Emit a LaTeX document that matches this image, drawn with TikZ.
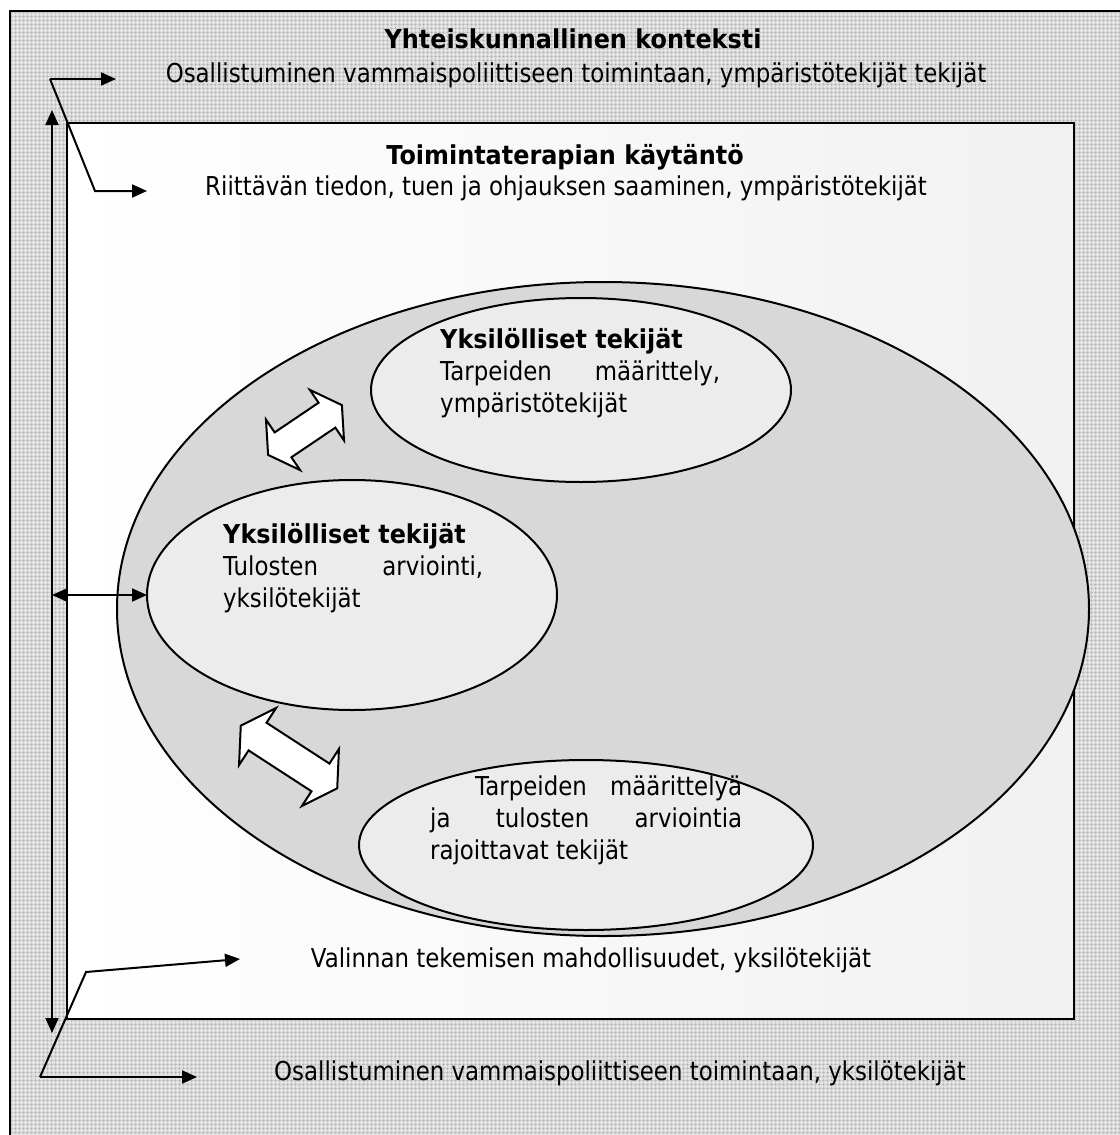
\documentclass[tikz,border=0pt]{standalone}
\usepackage{fontspec}
\setmainfont{DejaVu Sans}[FakeStretch=0.88,BoldFeatures={FakeStretch=0.92}]
\usetikzlibrary{arrows.meta,patterns.meta}
\definecolor{outerbg}{RGB}{226,226,226}
\definecolor{outergrid}{RGB}{178,178,178}
\definecolor{practice}{RGB}{241,241,241}
\definecolor{bigfill}{RGB}{216,216,216}
\definecolor{smallfill}{RGB}{236,236,236}
\tikzset{
  tip/.tip={Triangle[length=15pt,width=13pt]},
  frame/.style={draw=black,line width=2.4pt},
  link/.style={draw=black,line width=2pt,-tip},
  twoway/.style={draw=black,line width=2pt,tip-tip},
  factor/.style={draw=black,line width=2pt,fill=smallfill},
  block/.style={draw=black,line width=2pt,fill=white,line join=miter},
  txt/.style={font=\fontsize{26}{32}\selectfont,inner sep=0pt,anchor=base},
  head/.style={txt,font=\fontsize{26}{32}\selectfont\bfseries},
  para/.style={txt,anchor=base west},
}
\newcommand{\spread}[2]{\makebox[#1][s]{#2}}
\begin{document}
\begin{tikzpicture}[x=1pt,y=-1pt]
\useasboundingbox (0,0) rectangle (1119,1135);
% societal context: textured outer field
\fill[outerbg] (10,11) rectangle (1130,1145);
\fill[pattern={Hatch[angle=0,distance=4pt,line width=0.5pt]},pattern color=outergrid] (10,11) rectangle (1130,1145);
\draw[line width=2.8pt] (1130,11) -- (10,11) -- (10,1145);
% occupational therapy practice
\shade[left color=white,right color=practice] (67,123) rectangle (1074,1019);
\draw[frame] (67,123) rectangle (1074,1019);
% big ellipse and the three factor ellipses
\draw[line width=2pt,fill=bigfill] (603,609) ellipse [x radius=486,y radius=327];
\draw[factor] (581,390) ellipse [x radius=210,y radius=92];
\draw[factor] (352,595) ellipse [x radius=205,y radius=115];
\draw[factor] (586,845) ellipse [x radius=227,y radius=85];
% block double arrows
\begin{scope}[shift={(305,430)},rotate=34]
  \draw[block] (-44.5,0) -- (-26.5,30.5) -- (-26.5,15) -- (26.5,15) -- (26.5,30.5) -- (44.5,0)
    -- (26.5,-30.5) -- (26.5,-15) -- (-26.5,-15) -- (-26.5,-30.5) -- cycle;
\end{scope}
\begin{scope}[shift={(289,757)},rotate=-33]
  \draw[block] (-57.5,0) -- (-37.5,34) -- (-37.5,16.5) -- (37.5,16.5) -- (37.5,34) -- (57.5,0)
    -- (37.5,-34) -- (37.5,-16.5) -- (-37.5,-16.5) -- (-37.5,-34) -- cycle;
\end{scope}
% texts
\node[head] (t1) at (573,48) {Yhteiskunnallinen konteksti};
\node[txt] (s1) at (576,82) {Osallistuminen vammaispoliittiseen toimintaan, ympäristötekijät tekijät};
\node[head] (t2) at (565,164) {Toimintaterapian käytäntö};
\node[txt] (s2) at (566,195) {Riittävän tiedon, tuen ja ohjauksen saaminen, ympäristötekijät};
\node[para] (f1) at (440,348)
  {\vtop{\hbox{\textbf{Yksilölliset tekijät}}\hbox{\spread{280pt}{Tarpeiden määrittely,}}\hbox{ympäristötekijät}}};
\node[para] (f2) at (223,543)
  {\vtop{\hbox{\textbf{Yksilölliset tekijät}}\hbox{\spread{260pt}{Tulosten arviointi,}}\hbox{yksilötekijät}}};
\node[para] (f3) at (430,795)
  {\vtop{\hbox{\hspace*{45pt}\spread{267pt}{Tarpeiden määrittelyä}}\hbox{\spread{312pt}{ja tulosten arviointia}}\hbox{rajoittavat tekijät}}};
\node[txt] (s3) at (591,967) {Valinnan tekemisen mahdollisuudet, yksilötekijät};
\node[txt] (s4) at (620,1080) {Osallistuminen vammaispoliittiseen toimintaan, yksilötekijät};
% connectors
\coordinate (vtop) at (52,110);
\coordinate (vbot) at (52,1033);
\draw[twoway] (vtop) -- (vbot);
\coordinate (hl) at (52,595);
\coordinate (hr) at (147,595);
\draw[twoway] (hl) -- (hr);
\coordinate (ka) at (50,79);
\coordinate (kb) at (95,191);
\coordinate (ka2) at (116,79);
\coordinate (kb2) at (147,191);
\draw[link] (ka) -- (ka2);
\draw[link] (ka) -- (kb) -- (kb2);
\coordinate (ya) at (40,1077);
\coordinate (yb) at (86,972);
\coordinate (ya2) at (197,1077);
\coordinate (yb2) at (240,959);
\draw[link] (ya) -- (ya2);
\draw[link] (ya) -- (yb) -- (yb2);
\end{tikzpicture}
\end{document}
